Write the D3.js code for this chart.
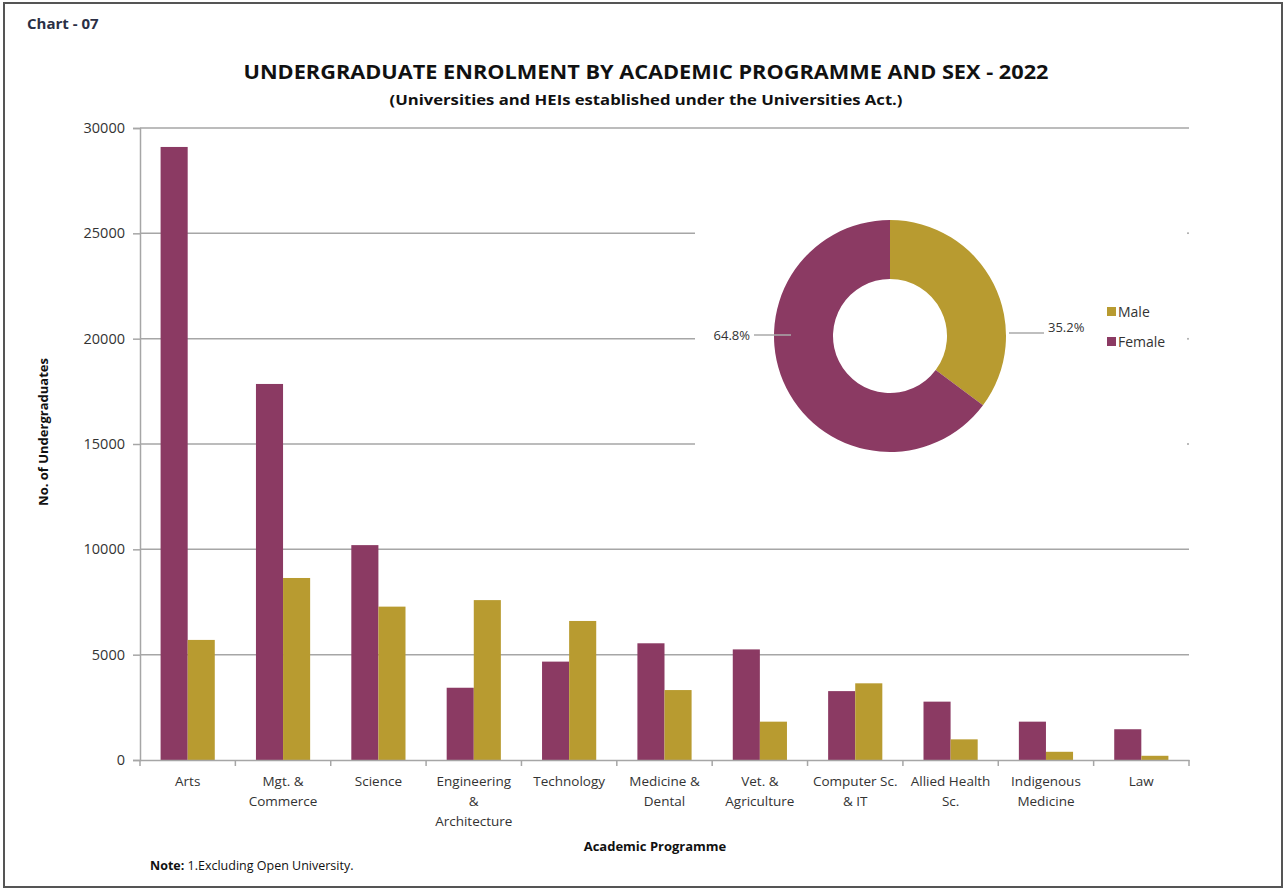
<!DOCTYPE html>
<html>
<head>
<meta charset="utf-8">
<script src="https://cdn.jsdelivr.net/npm/d3@7"></script>
<style>
  body { margin: 0; background: #fff; }
  text { font-family: "Open Sans", "Liberation Sans", sans-serif; }
</style>
</head>
<body>
<div id="chart"></div>
<script>
var width = 1286;
var height = 890;

// data
var categories = ["Arts", "Mgt. &|Commerce", "Science", "Engineering|&|Architecture", "Technology",
    "Medicine &|Dental", "Vet. &|Agriculture", "Computer Sc.|& IT", "Allied Health|Sc.",
    "Indigenous|Medicine", "Law"];
var series = ["Female", "Male"];
var female = [29100, 17850, 10200, 3430, 4670, 5540, 5250, 3270, 2770, 1820, 1460];
var male = [5700, 8640, 7280, 7590, 6600, 3320, 1820, 3640, 980, 390, 200];
var yTicks = [0, 5000, 10000, 15000, 20000, 25000, 30000];
var shareLabels = ["Male", "Female"];
var shareValues = [35.2, 64.8];

var colors = {Female: "#8b3a63", Male: "#b89b30"};

var svg = d3.select("#chart")
    .append("svg")
    .attr("width", width)
    .attr("height", height);

// frame
svg.append("rect")
    .attr("x", 4).attr("y", 3)
    .attr("width", 1278).attr("height", 884)
    .attr("fill", "none")
    .attr("stroke", "#555")
    .attr("stroke-width", 2);

svg.append("text")
    .attr("x", 27).attr("y", 29)
    .attr("font-size", 15).attr("font-weight", "bold")
    .attr("fill", "#2a2f45")
    .text("Chart - 07");

// titles
svg.append("text")
    .attr("x", 646).attr("y", 79)
    .attr("text-anchor", "middle")
    .attr("font-size", 20).attr("font-weight", "bold")
    .attr("textLength", 805).attr("lengthAdjust", "spacingAndGlyphs")
    .attr("fill", "#111")
    .text("UNDERGRADUATE ENROLMENT BY ACADEMIC PROGRAMME AND SEX - 2022");
svg.append("text")
    .attr("x", 646).attr("y", 105)
    .attr("text-anchor", "middle")
    .attr("font-size", 15).attr("font-weight", "bold")
    .attr("textLength", 513).attr("lengthAdjust", "spacingAndGlyphs")
    .attr("fill", "#111")
    .text("(Universities and HEIs established under the Universities Act.)");

// scales
var x0 = d3.scaleBand().domain(categories).range([140, 1189]);
var x1 = d3.scaleBand().domain(series).range([0, x0.bandwidth()]).paddingOuter(0.76);
var y = d3.scaleLinear().domain([0, 30000]).range([760, 128]);

// gridlines
svg.append("g").selectAll("line")
    .data(yTicks.filter(function(d) { return d > 0; }))
    .enter().append("line")
    .attr("x1", 140).attr("x2", 1189)
    .attr("y1", function(d) { return y(d); })
    .attr("y2", function(d) { return y(d); })
    .attr("stroke", "#a6a6a6")
    .attr("stroke-width", 1.5);

// y axis
var yAxis = svg.append("g")
    .attr("transform", "translate(140,0)")
    .call(d3.axisLeft(y).tickValues(yTicks).tickSize(7).tickPadding(8).tickFormat(d3.format("d")));
yAxis.select(".domain").attr("stroke", "#a6a6a6").attr("stroke-width", 1.5);
yAxis.selectAll(".tick line").attr("stroke", "#a6a6a6").attr("stroke-width", 1.5);
yAxis.selectAll(".tick text").attr("font-size", 14.5).attr("fill", "#333")
    .style("font-family", "'Open Sans', sans-serif");

// bars
var groups = svg.append("g").selectAll("g")
    .data(categories)
    .enter().append("g")
    .attr("transform", function(d) { return "translate(" + x0(d) + ",0)"; });

groups.selectAll("rect")
    .data(function(d, i) { return [{s: "Female", v: female[i]}, {s: "Male", v: male[i]}]; })
    .enter().append("rect")
    .attr("x", function(d) { return x1(d.s); })
    .attr("width", x1.bandwidth())
    .attr("y", function(d) { return y(d.v); })
    .attr("height", function(d) { return y(0) - y(d.v); })
    .attr("fill", function(d) { return colors[d.s]; });

// x axis
var xAxis = svg.append("g")
    .attr("transform", "translate(0,760)")
    .call(d3.axisBottom(x0).tickSize(0).tickFormat(""));
xAxis.select(".domain").attr("stroke", "#a6a6a6").attr("stroke-width", 1.5);

svg.append("g").selectAll("line")
    .data(categories.concat(["end"]))
    .enter().append("line")
    .attr("x1", function(d, i) { return i < categories.length ? x0(d) : x0.range()[1]; })
    .attr("x2", function(d, i) { return i < categories.length ? x0(d) : x0.range()[1]; })
    .attr("y1", 760).attr("y2", 766)
    .attr("stroke", "#a6a6a6").attr("stroke-width", 1.5);

var xLabels = svg.append("g").selectAll("text")
    .data(categories)
    .enter().append("text")
    .attr("x", function(d) { return x0(d) + x0.bandwidth() / 2; })
    .attr("y", 786)
    .attr("text-anchor", "middle")
    .attr("font-size", 13.5)
    .attr("fill", "#333");
xLabels.selectAll("tspan")
    .data(function(d) { return d.split("|"); })
    .enter().append("tspan")
    .attr("x", function() { return d3.select(this.parentNode).attr("x"); })
    .attr("dy", function(d, i) { return i === 0 ? 0 : 20; })
    .text(function(d) { return d; });

// axis titles
svg.append("text")
    .attr("transform", "translate(48,432) rotate(-90)")
    .attr("text-anchor", "middle")
    .attr("font-size", 13).attr("font-weight", "bold")
    .attr("fill", "#111")
    .text("No. of Undergraduates");

svg.append("text")
    .attr("x", 655).attr("y", 851)
    .attr("text-anchor", "middle")
    .attr("font-size", 13).attr("font-weight", "bold")
    .attr("fill", "#111")
    .text("Academic Programme");

var note = svg.append("text")
    .attr("x", 150).attr("y", 870)
    .attr("font-size", 12.5)
    .attr("fill", "#111");
note.append("tspan").attr("font-weight", "bold").text("Note:");
note.append("tspan").text(" 1.Excluding Open University.");

// pie inset (white box hides the gridlines behind it)
svg.append("rect")
    .attr("x", 695).attr("y", 180)
    .attr("width", 492).attr("height", 300)
    .attr("fill", "#fff");

svg.append("g").selectAll("circle")
    .data([25000, 20000, 15000])
    .enter().append("circle")
    .attr("cx", 1188).attr("cy", function(d) { return y(d); })
    .attr("r", 0.8).attr("fill", "#bbb");

var cx = 890, cy = 336;
var pie = d3.pie().sort(null).value(function(d) { return d.v; });
var arc = d3.arc().innerRadius(57).outerRadius(116);
var slices = shareLabels.map(function(s, i) { return {s: s, v: shareValues[i]}; });

svg.append("g")
    .attr("transform", "translate(" + cx + "," + cy + ")")
    .selectAll("path")
    .data(pie(slices))
    .enter().append("path")
    .attr("d", arc)
    .attr("fill", function(d) { return colors[d.data.s]; });

// pie labels with leader lines
svg.append("line")
    .attr("x1", 1009).attr("x2", 1044).attr("y1", 333).attr("y2", 333)
    .attr("stroke", "#aaa").attr("stroke-width", 1.5);
svg.append("text")
    .attr("x", 1048).attr("y", 332)
    .attr("font-size", 13).attr("fill", "#333")
    .text(shareValues[0].toFixed(1) + "%");

svg.append("line")
    .attr("x1", 754).attr("x2", 791).attr("y1", 335).attr("y2", 335)
    .attr("stroke", "#aaa").attr("stroke-width", 1.5);
svg.append("text")
    .attr("x", 750).attr("y", 340)
    .attr("text-anchor", "end")
    .attr("font-size", 13).attr("fill", "#333")
    .text(shareValues[1].toFixed(1) + "%");

// legend
var legend = svg.append("g").selectAll("g")
    .data(shareLabels)
    .enter().append("g")
    .attr("transform", function(d, i) { return "translate(1107," + (307 + i * 30) + ")"; });
legend.append("rect")
    .attr("width", 9).attr("height", 9)
    .attr("fill", function(d) { return colors[d]; });
legend.append("text")
    .attr("x", 11).attr("y", 10)
    .attr("font-size", 14).attr("fill", "#333")
    .text(function(d) { return d; });
</script>
</body>
</html>
